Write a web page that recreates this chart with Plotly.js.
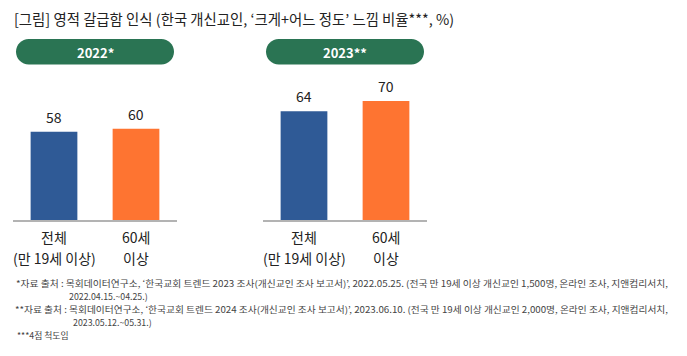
<!DOCTYPE html>
<html><head><meta charset="utf-8">
<script src="https://cdn.plot.ly/plotly-3.0.1.min.js"></script>
<style>html,body{margin:0;padding:0;background:#fff}#chart{width:687px;height:356px}</style>
</head><body><div id="chart"></div>
<script>
const W = 687, H = 356;
const FONT = '"Noto Sans CJK KR", "Noto Sans", sans-serif';

const titleText = "[그림] 영적 갈급함 인식 (한국 개신교인, ‘크게+어느 정도’ 느낌 비율***, %)";
const categories = ["전체", "60세 이상"];
const catLine1 = ["전체", "60세"];
const catLine2 = ["(만 19세 이상)", "이상"];
const values2022 = [58, 60];
const values2023 = [64, 70];
const panelLabels = ["2022*", "2023**"];
const barColors = ["#2f5a96", "#fe7431"];
const footnotes = [
  "*자료 출처 : 목회데이터연구소, ‘한국교회 트렌드 2023 조사(개신교인 조사 보고서)’, 2022.05.25. (전국 만 19세 이상 개신교인 1,500명, 온라인 조사, 지앤컴리서치,",
  "2022.04.15.~04.25.)",
  "**자료 출처 : 목회데이터연구소, ‘한국교회 트렌드 2024 조사(개신교인 조사 보고서)’, 2023.06.10. (전국 만 19세 이상 개신교인 2,000명, 온라인 조사, 지앤컴리서치,",
  "2023.05.12.~05.31.)",
  "***4점 척도임"
];

const px = x => x / W;
const py = y => 1 - y / H;

function pillPath(x0, y0, x1, y1) {
  const r = (y1 - y0) / 2, k = 0.5523 * r;
  const P = (x, y) => px(x) + "," + py(y);
  return "M" + P(x0 + r, y0) + " L" + P(x1 - r, y0) +
    " C" + P(x1 - r + k, y0) + " " + P(x1, y0 + r - k) + " " + P(x1, y0 + r) +
    " C" + P(x1, y0 + r + k) + " " + P(x1 - r + k, y1) + " " + P(x1 - r, y1) +
    " L" + P(x0 + r, y1) +
    " C" + P(x0 + r - k, y1) + " " + P(x0, y0 + r + k) + " " + P(x0, y0 + r) +
    " C" + P(x0, y0 + r - k) + " " + P(x0 + r - k, y0) + " " + P(x0 + r, y0) + " Z";
}

const yBottom = py(220), yTop = py(60);
const traces = [
  {type: "bar", x: [0, 1], y: values2022, marker: {color: barColors}, width: 0.57,
   xaxis: "x", yaxis: "y", hoverinfo: "none"},
  {type: "bar", x: [0, 1], y: values2023, marker: {color: barColors}, width: 0.57,
   xaxis: "x2", yaxis: "y2", hoverinfo: "none"}
];

const annotations = [];
annotations.push({xref: "paper", yref: "paper", x: px(12), y: py(18), xanchor: "left", yanchor: "middle",
  text: titleText, showarrow: false, font: {family: FONT, size: 14.4, color: "#222"}});

const panels = [{xa: "x", ya: "y", vals: values2022}, {xa: "x2", ya: "y2", vals: values2023}];
panels.forEach((p, pi) => {
  p.vals.forEach((v, i) => {
    annotations.push({xref: p.xa, yref: p.ya, x: i, y: v, yanchor: "bottom", yshift: 3,
      text: String(v), showarrow: false, font: {family: FONT, size: 14, color: "#222"}});
    annotations.push({xref: p.xa, yref: "paper", x: i, y: py(237), yanchor: "middle",
      text: catLine1[i], showarrow: false, font: {family: FONT, size: 14, color: "#222"}});
    annotations.push({xref: p.xa, yref: "paper", x: i, y: py(258), yanchor: "middle",
      text: catLine2[i], showarrow: false, font: {family: FONT, size: 14, color: "#222"}});
  });
});
const pillX = [[16, 174], [266, 424]];
panelLabels.forEach((t, i) => {
  annotations.push({xref: "paper", yref: "paper", x: px((pillX[i][0] + pillX[i][1]) / 2), y: py(52),
    xanchor: "center", yanchor: "middle", text: "<b>" + t + "</b>", showarrow: false,
    font: {family: FONT, size: 13, color: "#fff"}});
});
const fnX = [16, 67, 15, 71, 15];
const fnY = [283, 296, 309, 322, 335];
const fnW = {0: 652, 2: 653};
footnotes.forEach((t, i) => {
  annotations.push({xref: "paper", yref: "paper", x: px(fnX[i]), y: py(fnY[i]), xanchor: "left", yanchor: "middle",
    text: t, showarrow: false, font: {family: FONT, size: fnW[i] ? 8.5 : 8.8, color: "#444"}});
});

const shapes = pillX.map(p => ({type: "path", xref: "paper", yref: "paper",
  path: pillPath(p[0], 39, p[1], 64.5), fillcolor: "#2a7453", line: {width: 0}}));

const xaxisBase = {range: [-0.5, 1.5], showgrid: false, zeroline: false, showticklabels: false,
  ticks: "", showline: true, linecolor: "#b3b3b3", linewidth: 1.5, fixedrange: true};
const yaxisBase = {showgrid: false, zeroline: false, showticklabels: false, ticks: "", showline: false,
  domain: [yBottom, yTop], fixedrange: true};

const layout = {
  width: W, height: H, margin: {l: 0, r: 0, t: 0, b: 0},
  paper_bgcolor: "#fff", plot_bgcolor: "#fff", showlegend: false,
  xaxis: Object.assign({}, xaxisBase, {domain: [px(13), px(177)], anchor: "y"}),
  yaxis: Object.assign({}, yaxisBase, {range: [0, 160 / 1.52], anchor: "x"}),
  xaxis2: Object.assign({}, xaxisBase, {domain: [px(263), px(427)], anchor: "y2"}),
  yaxis2: Object.assign({}, yaxisBase, {range: [0, 160 / 1.70], anchor: "x2"}),
  annotations: annotations, shapes: shapes
};

Plotly.newPlot("chart", traces, layout, {displayModeBar: false, staticPlot: true}).then(gd => {
  // condense long footnote lines to the reference widths, keep their left edges
  const texts = gd.querySelectorAll(".annotation-text");
  const root = gd.getBoundingClientRect();
  texts.forEach(el => {
    const t = el.textContent;
    footnotes.forEach((f, i) => {
      if (t === f && fnW[i] !== undefined) {
        el.style.fontSize = "8.8px";
        el.setAttribute("textLength", fnW[i]);
        el.setAttribute("lengthAdjust", "spacingAndGlyphs");
        const r = el.getBoundingClientRect();
        const dx = (root.left + fnX[i]) - r.left;
        el.setAttribute("x", parseFloat(el.getAttribute("x") || 0) + dx);
      }
    });
  });
});
</script>
</body></html>
